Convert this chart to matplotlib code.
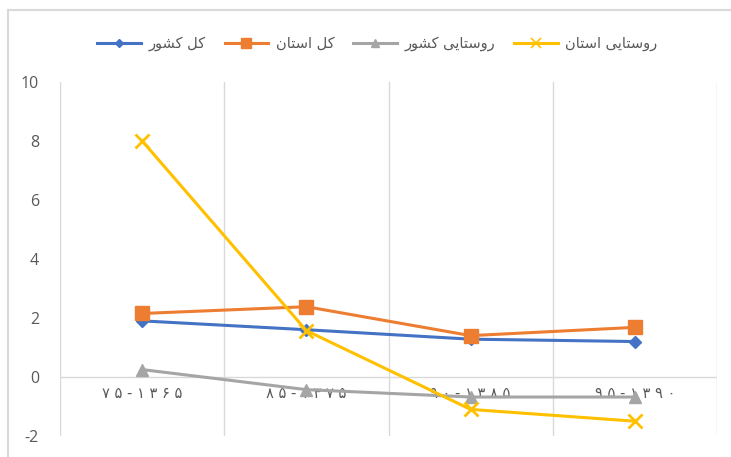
import matplotlib.pyplot as plt
from matplotlib.lines import Line2D

##      DATA       ##
# periods, written in visual (left-to-right) order with Persian digits
periods = ['۷۵-۱۳۶۵', '۸۵-۱۳۷۵', '۹۰-۱۳۸۵', '۹۵-۱۳۹۰']

# legend names, pre-shaped Persian (presentation forms, visual order)
# کل کشور / کل استان / روستایی کشور / روستایی استان
w_kol = '\uFEDE\uFB90'
w_keshvar = '\uFEAD\uFEEE\uFEB8\uFB90'
w_ostan = '\uFEE5\uFE8E\uFE98\uFEB3\uFE8D'
w_rustai = '\uFBFD\uFBFE\uFE8E\uFE98\uFEB3\uFEED\uFEAD'
names = [w_keshvar + ' ' + w_kol,
         w_ostan + ' ' + w_kol,
         w_keshvar + ' ' + w_rustai,
         w_ostan + ' ' + w_rustai]

kol_keshvar = [1.9, 1.6, 1.28, 1.2]
kol_ostan = [2.15, 2.38, 1.4, 1.68]
rustai_keshvar = [0.25, -0.43, -0.68, -0.68]
rustai_ostan = [8.0, 1.57, -1.1, -1.5]

##      STYLE       ##
colors = ['#4472C4', '#ED7D31', '#A5A5A5', '#FFC000']
markers = ['D', 's', '^', 'x']
msizes = [6, 10, 9, 10]
grid_c = '#D9D9D9'
text_c = '#595959'

plt.rcParams['font.family'] = ['Open Sans', 'DejaVu Sans']
plt.rcParams['axes.unicode_minus'] = False

fig = plt.figure(figsize=(7.31, 4.57), dpi=100)
ax = fig.add_axes([0.082, 0.046, 0.899, 0.775])

series = [kol_keshvar, kol_ostan, rustai_keshvar, rustai_ostan]
xs = [i + 0.5 for i in range(len(periods))]
for vals, c, m, ms, nm in zip(series, colors, markers, msizes, names):
    ax.plot(xs, vals, color=c, marker=m, markersize=ms, linewidth=2.2,
            markeredgewidth=2 if m == 'x' else 1, label=nm, zorder=3)

ax.set_xlim(0, 4)
ax.set_ylim(-2, 10)
ax.set_yticks(range(-2, 11, 2))
ax.tick_params(axis='y', length=0, labelsize=11.5, labelcolor=text_c, pad=15)

# vertical category separators
ax.set_xticks(range(0, 5))
ax.set_xticklabels([])
ax.tick_params(axis='x', which='major', length=0)
ax.grid(axis='x', color=grid_c, linewidth=1)
ax.axhline(0, color=grid_c, linewidth=1, zorder=1)
for s in ax.spines.values():
    s.set_visible(False)

# category labels sit under the zero line
for x, p in zip(xs, periods):
    ax.text(x, -0.32, ' '.join(p), ha='center', va='top', fontsize=10.5,
            color=text_c, family=['DejaVu Sans'], zorder=2)

handles = [Line2D([], [], color=c, marker=m, markersize=ms * 0.7, linewidth=2.2,
                  markeredgewidth=1.2 if m == 'x' else 1)
           for c, m, ms in zip(colors, markers, msizes)]
fig.legend(handles, names, loc='center', bbox_to_anchor=(0.516, 0.905), ncol=4,
           frameon=False, markerfirst=True, handlelength=3, handletextpad=0.5,
           columnspacing=1.3, labelcolor=text_c, prop={'family': ['DejaVu Sans'], 'size': 10.5})

# outer frame (top and left edges visible)
fig.add_artist(Line2D([8 / 731, 1], [1 - 9.5 / 457, 1 - 9.5 / 457], color=grid_c,
                      linewidth=1.5, transform=fig.transFigure))
fig.add_artist(Line2D([8 / 731, 8 / 731], [0, 1 - 9.5 / 457], color=grid_c,
                      linewidth=1.5, transform=fig.transFigure))

fig.savefig('out.png', dpi=100)
